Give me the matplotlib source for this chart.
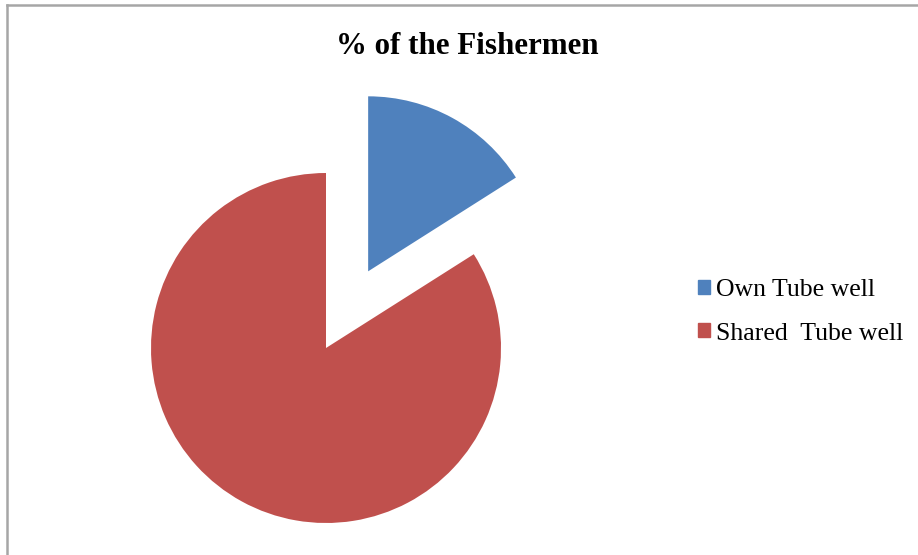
import matplotlib.pyplot as plt
from matplotlib.lines import Line2D

labels = ["Own Tube well", "Shared  Tube well"]
shares = [16, 84]
colors = ["#4F81BD", "#C0504D"]

plt.rcParams["font.family"] = ["Liberation Serif", "DejaVu Serif"]

W, H = 918, 555
fig = plt.figure(figsize=(W / 100, H / 100), dpi=100)

# pie centre and radius in pixels
cx, cy, r = 326, 348, 175
ax = fig.add_axes([0, 0, 1, 1])
ax.pie(shares, colors=colors, startangle=90, counterclock=False,
       explode=[0.5, 0], wedgeprops=dict(linewidth=0))
ax.set_xlim(-cx / r, (W - cx) / r)
ax.set_ylim(-(H - cy) / r, cy / r)
ax.set_aspect("auto")
ax.axis("off")

fig.text(467 / W, 1 - 46 / H, "% of the Fishermen", ha="center", va="center",
         fontsize=22.3, fontweight="bold")

handles = [plt.Rectangle((0, 0), 1, 1, color=c) for c in colors]
fig.legend(handles, labels, loc="center left",
           bbox_to_anchor=(698 / W, 1 - 312 / H), frameon=False,
           borderpad=0, borderaxespad=0,
           fontsize=18.5, handlelength=0.47, handleheight=0.47,
           handletextpad=0.23, labelspacing=0.82)

# chart border (left and top edges)
grey = "#A6A6A6"
fig.add_artist(Line2D([7 / W, 7 / W], [0, 1 - 5 / H], color=grey, lw=1.8,
                      transform=fig.transFigure))
fig.add_artist(Line2D([7 / W, 1], [1 - 5 / H, 1 - 5 / H], color=grey, lw=1.8,
                      transform=fig.transFigure))

plt.savefig("out.png", dpi=100)
